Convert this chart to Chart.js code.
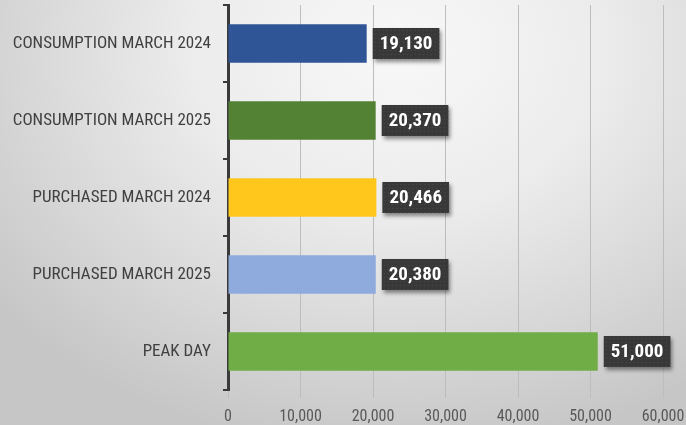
<!DOCTYPE html>
<html>
<head>
<meta charset="utf-8">
<script src="https://cdn.jsdelivr.net/npm/chart.js@4/dist/chart.umd.min.js"></script>
<style>
  html, body { margin: 0; padding: 0; }
  body {
    width: 686px; height: 425px; overflow: hidden;
    background: radial-gradient(ellipse 75% 95% at 58% 12%, #f8f8f8 0%, #ececec 40%, #d6d6d6 75%, #c6c6c6 100%);
  }
  #wrap { width: 686px; height: 425px; }
</style>
</head>
<body>
<div id="wrap"><canvas id="chart" width="686" height="425"></canvas></div>
<script>
// categorias e valores
const categories = ['CONSUMPTION MARCH 2024', 'CONSUMPTION MARCH 2025', 'PURCHASED MARCH 2024', 'PURCHASED MARCH 2025', 'PEAK DAY'];
const values = [19130, 20370, 20466, 20380, 51000];
const barColors = ['#2f5597', '#548235', '#ffc71c', '#8faadc', '#70ad47'];
const xTicks = [0, 10000, 20000, 30000, 40000, 50000, 60000];

const labelFont = '"Liberation Sans Narrow", "Roboto Condensed", "DejaVu Sans Condensed", sans-serif';

// caixas escuras com os valores
const valueBoxes = {
  id: 'valueBoxes',
  afterDatasetsDraw(chart) {
    const ctx = chart.ctx;
    const meta = chart.getDatasetMeta(0);
    ctx.save();
    ctx.font = 'bold 19px ' + labelFont;
    meta.data.forEach((bar, i) => {
      const text = values[i].toLocaleString('en-US');
      const w = ctx.measureText(text).width + 14;
      const h = 31;
      const x = bar.x + 6;
      const y = bar.y - h / 2;
      ctx.shadowColor = 'rgba(0,0,0,0.45)';
      ctx.shadowBlur = 4;
      ctx.shadowOffsetX = 2;
      ctx.shadowOffsetY = 3;
      ctx.fillStyle = '#383838';
      ctx.fillRect(x, y, w, h);
      ctx.shadowColor = 'transparent';
      // pontilhado
      ctx.fillStyle = 'rgba(90,90,90,0.6)';
      for (let px = x + 2; px < x + w; px += 4) {
        for (let py = y + 2; py < y + h; py += 4) {
          ctx.fillRect(px, py, 1, 1);
        }
      }
      ctx.fillStyle = '#ffffff';
      ctx.textAlign = 'center';
      ctx.textBaseline = 'middle';
      ctx.fillText(text, x + w / 2, bar.y + 1);
    });
    ctx.restore();
  }
};

new Chart(document.getElementById('chart'), {
  type: 'bar',
  data: {
    labels: categories,
    datasets: [{
      data: values,
      backgroundColor: barColors,
      borderWidth: 0,
      barPercentage: 0.5,
      categoryPercentage: 1
    }]
  },
  options: {
    indexAxis: 'y',
    responsive: false,
    animation: false,
    layout: { padding: { top: 5, right: 0 } },
    plugins: { legend: { display: false }, tooltip: { enabled: false } },
    scales: {
      x: {
        min: 0, max: 60000,
        afterBuildTicks(axis) { axis.ticks = xTicks.map(v => ({ value: v })); },
        grid: { color: '#bdbdbd', lineWidth: 1, tickLength: 8, drawTicks: true },
        border: { display: false },
        ticks: {
          color: '#595959',
          font: { family: labelFont, size: 16 },
          padding: 9,
          maxRotation: 0,
          callback: v => v.toLocaleString('en-US')
        },
        afterFit(axis) {
          axis.height = 35;
          axis.paddingRight = 23;
        }
      },
      y: {
        grid: { offset: true, drawOnChartArea: false, color: '#3a3a3a', lineWidth: 2, tickLength: 5 },
        border: { display: true, color: '#3a3a3a', width: 3 },
        ticks: {
          color: '#404040',
          font: { family: labelFont, size: 17 },
          padding: 12
        },
        afterFit(axis) {
          axis.width = 228;
          axis.paddingTop = 0;
          axis.paddingBottom = 0;
        }
      }
    }
  },
  plugins: [valueBoxes]
});
</script>
</body>
</html>
